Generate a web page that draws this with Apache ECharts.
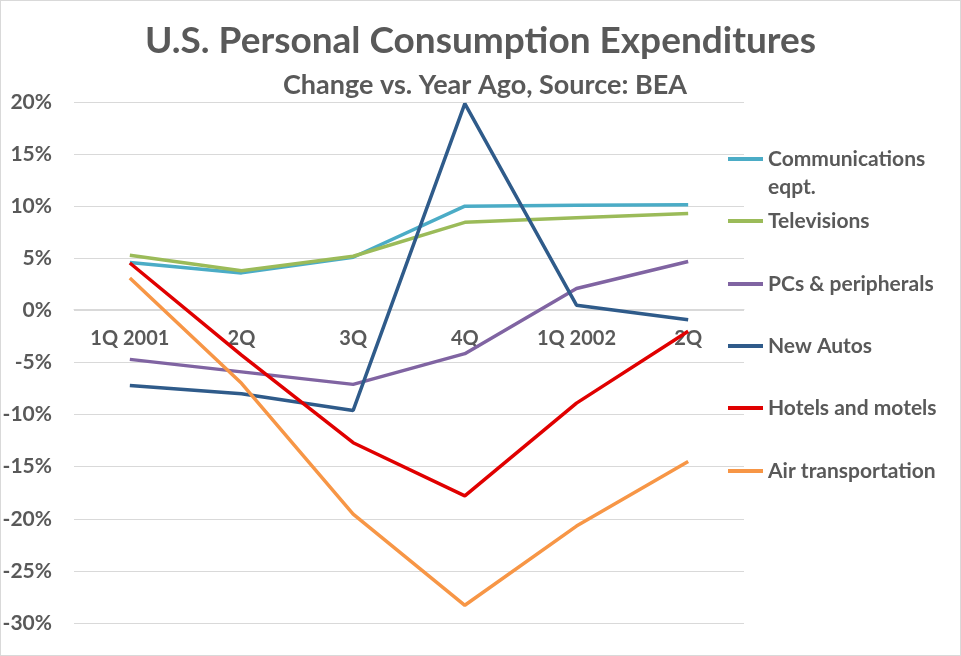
<!DOCTYPE html>
<html><head><meta charset="utf-8">
<script src="https://cdn.jsdelivr.net/npm/echarts@6/dist/echarts.min.js"></script>
<style>html,body{margin:0;padding:0;background:#fff}#c{width:961px;height:656px;box-sizing:border-box;border:1px solid #d9d9d9}</style>
</head><body><div id="c"></div>
<script>
const categories = ['1Q 2001','2Q','3Q','4Q','1Q 2002','2Q'];
const comms  = [4.6, 3.6, 5.1, 10.0, 10.1, 10.15];
const tvs    = [5.3, 3.8, 5.2, 8.45, 8.9, 9.3];
const pcs    = [-4.7, -5.9, -7.1, -4.15, 2.1, 4.7];
const autos  = [-7.2, -8.0, -9.6, 19.85, 0.5, -0.9];
const hotels = [4.55, -4.3, -12.7, -17.8, -8.9, -2.0];
const air    = [3.1, -7.0, -19.55, -28.3, -20.7, -14.5];
const seriesNames = ['Communications','Televisions','PCs & peripherals','New Autos','Hotels and motels','Air transportation'];
const seriesData = [comms, tvs, pcs, autos, hotels, air];
const colors = ['#4BACC6','#9BBB59','#8064A2','#2F5B8A','#E00000','#F79646'];
const legendTops = [146, 208, 271, 333, 395, 458];

const font = 'Lato, "Open Sans", sans-serif';
const grey = '#595959';
const chart = echarts.init(document.getElementById('c'));
chart.setOption({
  animation: false,
  color: colors,
  title: [
    {text: 'U.S. Personal Consumption Expenditures', left: 'center', top: 17,
     textStyle: {fontFamily: font, fontSize: 37, fontWeight: 'bold', color: grey}},
    {text: 'Change vs. Year Ago, Source: BEA', left: 479, top: 66, textAlign: 'center',
     textStyle: {fontFamily: font, fontSize: 27, fontWeight: 'bold', color: grey}}
  ],
  legend: seriesNames.map((n, i) => ({
    data: [n], orient: 'vertical', left: 727, top: legendTops[i], padding: 0,
    itemWidth: 35, itemHeight: 4, icon: 'rect',
    textStyle: {fontFamily: font, fontSize: 21, fontWeight: 'bold', color: grey, lineHeight: 24}
  })),
  graphic: [{type: 'text', left: 767, top: 176,
    style: {text: 'eqpt.', fontFamily: font, fontSize: 21, fontWeight: 'bold', fill: grey}}],
  grid: {left: 73, right: 216, top: 101, bottom: 32, containLabel: false, outerBoundsMode: 'none'},
  xAxis: {
    type: 'category', data: categories, boundaryGap: true, position: 'bottom', offset: -314,
    axisLine: {onZero: false, lineStyle: {color: '#d9d9d9'}},
    axisTick: {show: false},
    axisLabel: {fontFamily: font, fontSize: 20, fontWeight: 'bold', color: grey, margin: 20}
  },
  yAxis: {
    type: 'value', min: -30, max: 20, interval: 5,
    axisLine: {show: false}, axisTick: {show: false},
    splitLine: {lineStyle: {color: '#d9d9d9'}},
    axisLabel: {formatter: '{value}%', fontFamily: font, fontSize: 21, fontWeight: 'bold', color: grey, margin: 22}
  },
  series: seriesNames.map((n, i) => ({
    name: n, type: 'line', data: seriesData[i], symbol: 'none',
    lineStyle: {width: 3.5, color: colors[i]}, itemStyle: {color: colors[i]}
  }))
});
</script></body></html>
